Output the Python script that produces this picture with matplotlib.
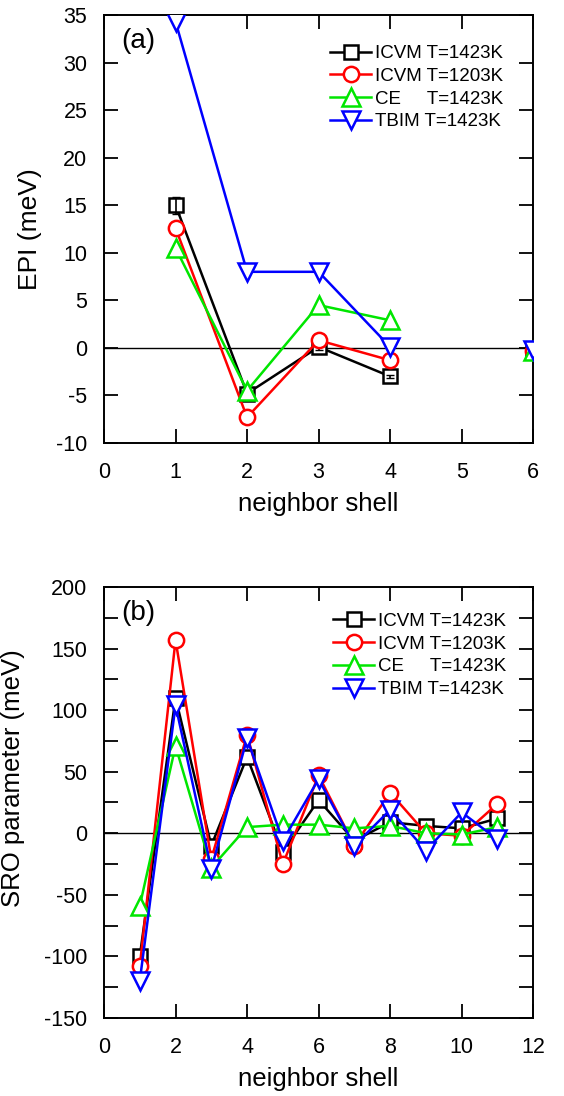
import numpy as np
import matplotlib
matplotlib.use("Agg")
import matplotlib.pyplot as plt
from matplotlib.ticker import MultipleLocator

plt.rcParams['font.family'] = ['Liberation Sans', 'DejaVu Sans']
plt.rcParams['axes.unicode_minus'] = False

# panel (a): effective pair interactions, shell 5 missing
shell_a = [1, 2, 3, 4, 5, 6]
epi_icvm_1423 = [15.0, -4.8, 0.1, -3.0, np.nan, -0.2]
epi_icvm_1423_err = [0.9, 0.3, 0.3, 0.2, 0.0, 0.0]
epi_icvm_1203 = [12.6, -7.3, 0.8, -1.3, np.nan, -0.3]
epi_ce_1423 = [10.5, -4.5, 4.5, 2.9, np.nan, -0.3]
epi_tbim_1423 = [34.3, 8.0, 8.0, 0.1, np.nan, -0.2]

# panel (b): SRO parameters
shell_b = [1, 2, 3, 4, 5, 6, 7, 8, 9, 10, 11]
sro_icvm_1423 = [-100, 110, -10, 62, -15, 27, -6, 9, 6, 4, 12]
sro_icvm_1203 = [-108, 157, -21, 80, -25, 47, -10, 33, 0, -2, 24]
sro_ce_1423 = [-59, 71, -28, 5, 7, 7, 4, 6, 0, -1, 5]
sro_tbim_1423 = [-120, 104, -29, 77, -6, 44, -10, 19, -14, 17, -5]

labels = ['ICVM T=1423K', 'ICVM T=1203K', 'CE     T=1423K', 'TBIM T=1423K']
colors = ['black', 'red', '#00e600', 'blue']
markers = ['s', 'o', '^', 'v']
msizes = [10, 11, 13, 13]

fig = plt.figure(figsize=(5.64, 10.96), dpi=100)
ax1 = fig.add_axes([0.1844, 0.5958, 0.761, 0.3905])
ax2 = fig.add_axes([0.1844, 0.0712, 0.761, 0.3932])


def style(ax):
    ax.tick_params(which='both', direction='in', top=True, right=True,
                   length=10, width=1.3, labelsize=15.5)
    ax.tick_params(axis='x', pad=14)
    ax.tick_params(axis='y', pad=12)
    for sp in ax.spines.values():
        sp.set_linewidth(1.4)
    ax.axhline(0, color='black', lw=1, zorder=1)
    ax.set_xlabel('neighbor shell', fontsize=18.5, labelpad=6)


# ---- panel a
series_a = [epi_icvm_1423, epi_icvm_1203, epi_ce_1423, epi_tbim_1423]
for i, ys in enumerate(series_a):
    ax1.plot(shell_a, ys, color=colors[i], marker=markers[i], ms=msizes[i],
             mfc='white', mec=colors[i], mew=1.8, lw=1.8, label=labels[i],
             zorder=3 + i)
ax1.errorbar(shell_a, epi_icvm_1423, yerr=epi_icvm_1423_err, fmt='none',
             ecolor='black', elinewidth=1.2, capsize=3, zorder=3)
ax1.set_xlim(0, 6)
ax1.set_ylim(-10, 35)
ax1.xaxis.set_major_locator(MultipleLocator(1))
ax1.yaxis.set_major_locator(MultipleLocator(5))
ax1.set_ylabel('EPI (meV)', fontsize=19)
ax1.yaxis.set_label_coords(-0.145, 0.5)
style(ax1)
ax1.text(0.04, 0.94, '(a)', transform=ax1.transAxes, fontsize=20, va='center')
ax1.legend(loc='upper left', bbox_to_anchor=(0.527, 0.93), frameon=False,
           fontsize=13.5, handlelength=2.2, handletextpad=0.2, labelspacing=0.3,
           borderpad=0, borderaxespad=0)

# ---- panel b
series_b = [sro_icvm_1423, sro_icvm_1203, sro_ce_1423, sro_tbim_1423]
for i, ys in enumerate(series_b):
    ax2.plot(shell_b, ys, color=colors[i], marker=markers[i], ms=msizes[i],
             mfc='white', mec=colors[i], mew=1.8, lw=1.8, label=labels[i],
             zorder=3 + i)
ax2.set_xlim(0, 12)
ax2.set_ylim(-150, 200)
ax2.xaxis.set_major_locator(MultipleLocator(2))
ax2.yaxis.set_major_locator(MultipleLocator(50))
ax2.yaxis.set_minor_locator(MultipleLocator(25))
ax2.set_ylabel('SRO parameter (meV)', fontsize=18.5)
ax2.yaxis.set_label_coords(-0.185, 0.557)
style(ax2)
ax2.text(0.04, 0.94, '(b)', transform=ax2.transAxes, fontsize=20, va='center')
ax2.legend(loc='upper left', bbox_to_anchor=(0.534, 0.94), frameon=False,
           fontsize=13.5, handlelength=2.2, handletextpad=0.2, labelspacing=0.3,
           borderpad=0, borderaxespad=0)

fig.savefig('out.png', dpi=100)
